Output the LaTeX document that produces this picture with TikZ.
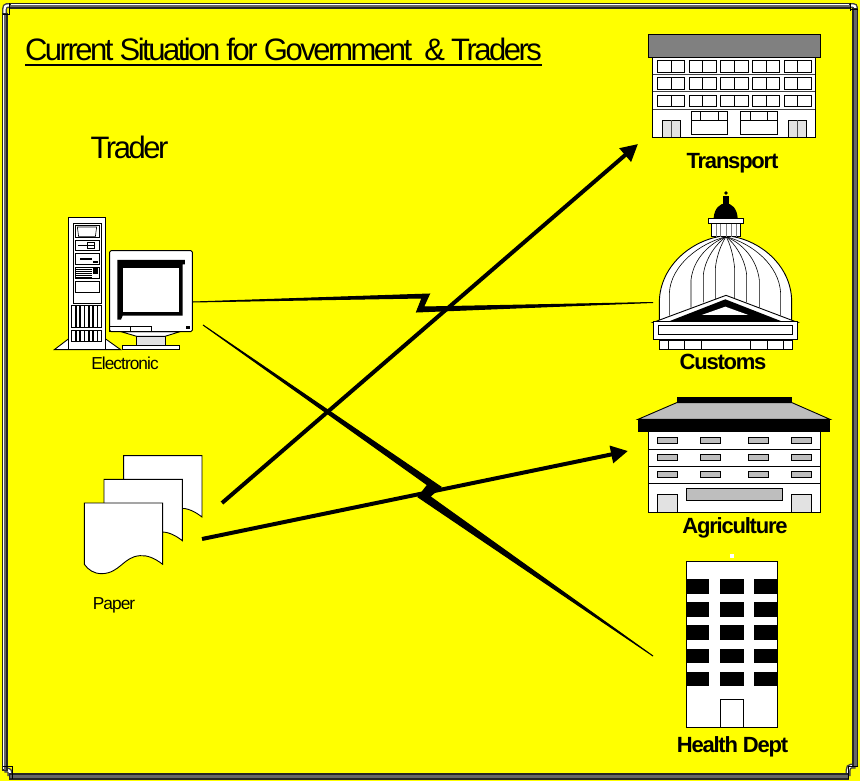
\documentclass[tikz,border=0pt]{standalone}
\usepackage{fontspec}
\setmainfont{Liberation Sans}
\usetikzlibrary{arrows.meta}
\definecolor{bgy}{HTML}{FFFF00}
\definecolor{roofg}{HTML}{808080}
\definecolor{lightg}{HTML}{BEBEBE}
\definecolor{doorg}{HTML}{E2E2E2}
\tikzset{
  icon/.style 2 args={shift={(#1,#2)},x=0.33333pt,y=-0.33333pt},
  ln/.style={draw=black,line width=0.9pt},
  thinln/.style={draw=black,line width=0.6pt},
  wfill/.style={ln,fill=white},
  bfill/.style={fill=black,draw=none},
  lbl/.style={inner sep=0pt,outer sep=0pt,anchor=base},
  blbl/.style={lbl,font=\fontsize{22}{24}\selectfont\bfseries\addfontfeature{LetterSpace=-5.5}},
  slbl/.style={lbl,font=\fontsize{17.3}{19}\selectfont\addfontfeature{LetterSpace=-5.5}},
  biglbl/.style={lbl,font=\fontsize{31}{33}\selectfont\addfontfeature{LetterSpace=-8}},
  arrowline/.style={draw=black,line width=4pt,-{Triangle[length=17pt,width=17pt]}},
  bolt/.style={fill=black,draw=black,line width=1pt,miter limit=3},
  band/.style={draw=black!85,line width=1.1pt,fill=white},
  bandcore/.style={draw=black!60,line width=2.2pt},
  corneredge/.style={draw=black!75,line width=5pt},
  cornercore/.style={draw=white,line width=2.2pt}
}
\begin{document}
\begin{tikzpicture}[x=1pt,y=-1pt]
\useasboundingbox (0,0) rectangle (860,781);
\fill[bgy] (0,0) rectangle (860,781);
% frame corners
\foreach \a/\b/\c/\d in {10/5.5/4.5/14, 850/5.5/855.5/11, 855.5/766/848/776, 4.5/770/10/776}{
  \draw[corneredge] (\a,\b) .. controls (\c,\b) and (\c,\b) .. (\c,\d);
  \draw[cornercore] (\a,\b) .. controls (\c,\b) and (\c,\b) .. (\c,\d);
}
% frame bands
\path[band] (10,3.5) rectangle (850,8);
\draw[bandcore] (10,6.4)--(850,6.4);
\path[band] (853,9) rectangle (857.5,766);
\draw[bandcore] (855.5,9)--(855.5,766);
\path[band] (10,774) rectangle (848,779);
\draw[bandcore] (10,776.5)--(848,776.5);
\path[band] (2.5,14) rectangle (7,770);
\draw[bandcore] (4.7,14)--(4.7,770);
\draw[thinln] (9.5,3.5)--(9.5,14)--(2.5,14);
\draw[thinln] (850,3.5)--(850,11) (850,9)--(857.5,9);
\draw[thinln] (848,766)--(858,766) (848,766)--(848,779);
\draw[thinln] (2.5,766)--(12,766)--(12,779);
% Transport
\begin{scope}[icon={630}{20}]
\path[wfill] (68,112) rectangle (556,352);
\path[ln,fill=roofg] (55,43) rectangle (570,112);
\foreach \yy in {162,215,267}{\draw[ln,draw=black!75] (68,\yy)--(556,\yy);}
\foreach \xx in {82,177,272,367,462}{
  \foreach \yy in {121,173,225}{
    \path[ln,fill=white] (\xx,\yy) rectangle ++(82,35);
    \draw[ln] (\xx+41,\yy)--++(0,35);
  }}
\foreach \xx in {96,475}{
  \path[ln,fill=doorg] (\xx,301) rectangle ++(54,51);
  \draw[ln,draw=black!70] (\xx+27,301)--++(0,51);
}
\foreach \xx in {184,332}{
  \path[ln,fill=white] (\xx,275) rectangle ++(109,69);
  \draw[ln] (\xx,301)--++(109,0) (\xx+28,275)--++(0,26) (\xx+81,275)--++(0,26);
}
\end{scope}
% Customs
\begin{scope}[icon={640}{185}]
\path[wfill] (58,412)--(58,350) .. controls (60,240) and (160,160) .. (258,152) .. controls (356,160) and (455,240) .. (455,350)--(455,412)--cycle;
\draw[thinln] (88,392)--(88,325) .. controls (92,240) and (180,175) .. (258,155);
\draw[thinln] (422,392)--(422,325) .. controls (418,240) and (336,175) .. (258,155);
\draw[thinln] (153,368)--(153,285) .. controls (160,220) and (210,175) .. (258,155);
\draw[thinln] (358,368)--(358,285) .. controls (350,220) and (306,175) .. (258,155);
\draw[thinln] (190,352)--(190,270) .. controls (195,220) and (230,175) .. (258,155);
\draw[thinln] (320,352)--(320,270) .. controls (315,220) and (284,175) .. (258,155);
\draw[thinln] (226,342)--(226,250) .. controls (230,210) and (245,175) .. (258,155);
\draw[thinln] (284,342)--(284,250) .. controls (280,210) and (270,175) .. (258,155);
\path[ln,fill=white] (214,116) rectangle (302,155);
\foreach \xx in {228,242,258,274,290}{\draw[line width=0.6pt,draw=black!50] (\xx,116)--(\xx,155);}
\path[bfill] (221,99) .. controls (223,70) and (240,55) .. (257,55) .. controls (275,55) and (291,70) .. (293,99)--cycle;
\path[bfill] (250,33) rectangle (266,60);
\path[bfill] (258,24) circle[radius=5.5];
\path[ln,fill=white] (205,100) rectangle (311,116);
\path[wfill] (40,412)--(258,331)--(472,412)--cycle;
\path[bfill] (82,411)--(256,343)--(430,411)--cycle;
\path[fill=white] (185,390)--(256,365)--(325,390)--cycle;
\path[ln,fill=white] (40,410) rectangle (472,462);
\path[ln,fill=white] (55,422) rectangle (458,448);
\path[ln,fill=white] (58,465) rectangle (456,494);
\foreach \xx in {85,133,185,330,382,430}{\draw[thinln] (\xx,465)--(\xx,494);}
\end{scope}
% Agriculture
\begin{scope}[icon={630}{390}]
\path[wfill] (55,125) rectangle (571,367);
\path[ln,fill=lightg] (140,38)--(486,38)--(600,88)--(24,88)--cycle;
\path[bfill] (140,20) rectangle (486,40);
\path[bfill] (24,88) rectangle (600,125);
\foreach \yy in {177,228,280}{\draw[ln] (55,\yy)--(571,\yy);}
\foreach \xx in {82,211,355,484}{
  \foreach \yy in {141,192,244}{
    \path[ln,fill=lightg] (\xx,\yy) rectangle ++(59,18);
  }}
\path[ln,fill=lightg] (169,296) rectangle (456,331);
\path[ln,fill=doorg] (82,314) rectangle (141,367);
\path[ln,fill=doorg] (485,314) rectangle (543,367);
\end{scope}
% Health Dept
\begin{scope}[icon={660}{545}]
\path[fill=white] (210,28) rectangle (221,39);
\path[wfill] (78,50) rectangle (352,546);
\foreach \xx in {78,181,283}{
  \foreach \yy in {102,172,241,311,380}{
    \path[bfill] (\xx,\yy) rectangle ++(69.5,44);
  }}
\path[ln,fill=white] (181,463) rectangle (250,546);
\end{scope}
% Computer
\begin{scope}[icon={45}{205}]
\path[wfill] (28,434)--(70,402)--(182,402)--(227,434)--cycle;
\path[wfill] (70,38) rectangle (182,434);
\draw[thinln] (84,54) rectangle (168,296);
\draw[ln] (90,60) rectangle (162,98);
\draw[thinln] (97,66)--(155,66)--(151,95)--(101,95)--cycle;
\draw[ln] (90,105) rectangle (162,137);
\draw[thinln] (98,121)--(150,121) (127,112) rectangle (148,131);
\draw[ln] (90,146) rectangle (162,178);
\draw[line width=2.2pt] (105,161)--(140,161);
\path[bfill] (143,168) rectangle (158,175);
\draw[ln] (90,186) rectangle (162,220);
\foreach \yy in {192,198,204,210,216}{\draw[line width=0.5pt] (92,\yy)--(142,\yy);}
\path[bfill] (143,188) rectangle (158,206);
\draw[ln] (90,228) rectangle (162,262);
\foreach \xx in {80,93,106,119,132,145,158}{
  \draw[line width=0.5pt] (\xx,302) rectangle ++(11,66);
  \draw[line width=0.5pt] (\xx,376) rectangle ++(11,34);
}
\path[wfill] (232,420) rectangle (404,434);
\path[ln,fill=doorg] (275,392) rectangle (360,420);
\path[wfill] (228,380)--(275,394)--(360,394)--(405,380)--cycle;
\path[wfill,rounded corners=1.5pt] (194,137) rectangle (442,380);
\path[bfill] (217,165)--(420,165)--(420,178)--(413,178)--(413,332)--(233,332)--(228,344)--(217,344)--cycle;
\path[ln,fill=white] (233,186) rectangle (404,322);
\draw[ln] (194,365) rectangle (320,380) (256,365)--(256,380);
\path[bfill] (422,362) rectangle (436,372);
\end{scope}
% Paper
\begin{scope}[icon={70}{445}]
\foreach \dx/\dy in {118/-142,59/-71,0/0}{
  \begin{scope}[shift={(\dx,\dy)}]
  \path[wfill] (43,174)--(278,174)--(278,358) .. controls (255,340) and (232,330) .. (210,332) .. controls (160,335) and (150,385) .. (95,386) .. controls (72,386) and (55,375) .. (43,358)--cycle;
  \end{scope}
}
\end{scope}
% Named connector ends
\coordinate (computerE) at (193,302);
\coordinate (computerS) at (203,325);
\coordinate (customsW) at (653,302.5);
\coordinate (healthW) at (653,656);
\coordinate (paperA) at (222,503);
\coordinate (paperB) at (202,539);
\coordinate (transportW) at (638,144);
\coordinate (agricW) at (628,451);
% Lightning connectors
\path[bolt] (computerE)--(429.5,294)--(423.5,307)--(customsW)--(416.5,312)--(422,298)--cycle;
\path[bolt] (computerS)--(441,487)--(430,496.5)--(healthW)--(418,497)--(427.5,485)--cycle;
% Arrows
\draw[arrowline] (paperA)--(transportW);
\draw[arrowline] (paperB)--(agricW);
% Labels
\node[biglbl,anchor=base west] (title) at (25,61) {Current Situation for Government\ \ \& Traders};
\draw[line width=2pt] ([yshift=-4pt]title.base west)--([yshift=-4pt]title.base east);
\node[biglbl] (trader) at (129.5,159) {Trader};
\node[slbl] (electronic) at (125,369) {Electronic};
\node[slbl] (paper) at (114,609) {Paper};
\node[blbl] (transport) at (732.5,168) {Transport};
\node[blbl] (customs) at (723,369) {Customs};
\node[blbl] (agriculture) at (735,533) {Agriculture};
\node[blbl] (health) at (732.5,752) {Health Dept};
\end{tikzpicture}
\end{document}
